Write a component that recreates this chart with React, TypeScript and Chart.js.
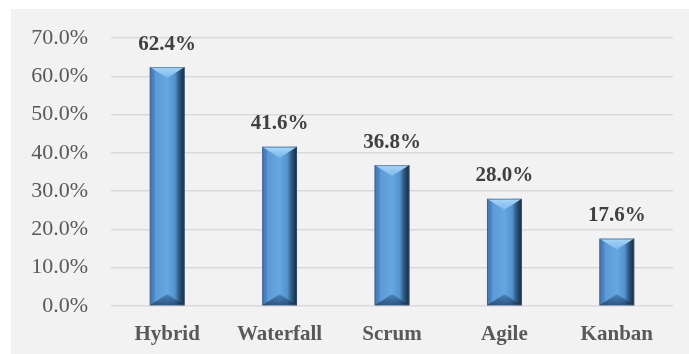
import React, { useEffect, useRef } from "react";
import { Chart, registerables } from "chart.js";

Chart.register(...registerables);

const categories = ["Hybrid", "Waterfall", "Scrum", "Agile", "Kanban"];
const shares = [0.624, 0.416, 0.368, 0.28, 0.176];
const shareLabels = ["62.4%", "41.6%", "36.8%", "28.0%", "17.6%"];
const yTickMax = 0.7;

const bevelPlugin = {
  id: "bevelBars",
  afterDatasetsDraw(chart: any) {
    const ctx = chart.ctx as CanvasRenderingContext2D;
    const meta = chart.getDatasetMeta(0);
    meta.data.forEach((bar: any, i: number) => {
      const w = bar.width;
      const x0 = bar.x - w / 2;
      const x1 = bar.x + w / 2;
      const y0 = bar.y;
      const y1 = bar.base;
      const cx = bar.x;
      const h = y1 - y0;
      const bt = Math.min(11, h / 3);
      ctx.save();
      const g = ctx.createLinearGradient(x0, 0, x1, 0);
      g.addColorStop(0, "#4a83bf");
      g.addColorStop(0.12, "#5a98d6");
      g.addColorStop(0.5, "#66a6e2");
      g.addColorStop(0.72, "#5593cf");
      g.addColorStop(0.84, "#2f5a82");
      g.addColorStop(1, "#15273a");
      ctx.fillStyle = g;
      ctx.fillRect(x0, y0, w, h);
      ctx.fillStyle = "rgba(40,80,130,0.25)";
      ctx.fillRect(x0, y0, 5, h);
      const gt = ctx.createLinearGradient(0, y0, 0, y0 + bt);
      gt.addColorStop(0, "#a9d6f7");
      gt.addColorStop(1, "#7bb8ec");
      ctx.beginPath();
      ctx.moveTo(x0, y0);
      ctx.lineTo(x1, y0);
      ctx.lineTo(cx, y0 + bt);
      ctx.closePath();
      ctx.fillStyle = gt;
      ctx.fill();
      const gb = ctx.createLinearGradient(0, y1 - bt, 0, y1);
      gb.addColorStop(0, "rgba(30,60,100,0.35)");
      gb.addColorStop(1, "rgba(20,45,80,0.65)");
      ctx.beginPath();
      ctx.moveTo(x0, y1);
      ctx.lineTo(x1, y1);
      ctx.lineTo(cx, y1 - bt);
      ctx.closePath();
      ctx.fillStyle = gb;
      ctx.fill();
      ctx.strokeStyle = "rgba(60,90,130,0.6)";
      ctx.lineWidth = 1;
      ctx.strokeRect(x0 + 0.5, y0 + 0.5, w - 1, h - 1);
      ctx.fillStyle = "#404040";
      ctx.font = "bold 21px 'Liberation Serif', 'Times New Roman', serif";
      ctx.textAlign = "center";
      ctx.textBaseline = "middle";
      ctx.fillText(shareLabels[i], cx, y0 - 23);
      ctx.restore();
    });
  },
};

export default function App() {
  const ref = useRef<HTMLCanvasElement>(null);
  useEffect(() => {
    const chart = new Chart(ref.current!, {
      type: "bar",
      data: {
        labels: categories,
        datasets: [
          {
            data: shares,
            backgroundColor: "rgba(0,0,0,0)",
            borderWidth: 0,
            categoryPercentage: 1,
            barPercentage: 0.31,
          },
        ],
      },
      options: {
        animation: false,
        responsive: false,
        layout: { padding: { top: 29, right: 16, left: 0, bottom: 0 } },
        plugins: { legend: { display: false }, tooltip: { enabled: false } },
        scales: {
          x: {
            grid: { display: false },
            border: { display: false },
            ticks: {
              color: "#595959",
              padding: 8,
              font: { family: "'Liberation Serif', 'Times New Roman', serif", size: 21, weight: "bold" },
            },
            afterFit: (s: any) => {
              s.height = 48;
              s.paddingLeft = 0;
              s.paddingRight = 0;
            },
          },
          y: {
            min: 0,
            max: yTickMax,
            ticks: {
              stepSize: 0.1,
              padding: 23,
              color: "#595959",
              font: { family: "'Liberation Serif', 'Times New Roman', serif", size: 22 },
              callback: (v: any) => (Number(v) * 100).toFixed(1) + "%",
            },
            grid: { color: "#d9d9d9", lineWidth: 1.5, drawTicks: false },
            border: { display: false },
            afterFit: (s: any) => {
              s.width = 100;
              s.paddingTop = 0;
              s.paddingBottom = 0;
            },
          },
        },
      },
      plugins: [bevelPlugin],
    });
    return () => chart.destroy();
  }, []);
  return (
    <div
      style={{
        position: "absolute",
        left: 11,
        top: 9,
        width: 678,
        height: 345,
        background: "#f2f2f2",
      }}
    >
      <canvas ref={ref} width={678} height={345} style={{ display: "block" }} />
    </div>
  );
}
